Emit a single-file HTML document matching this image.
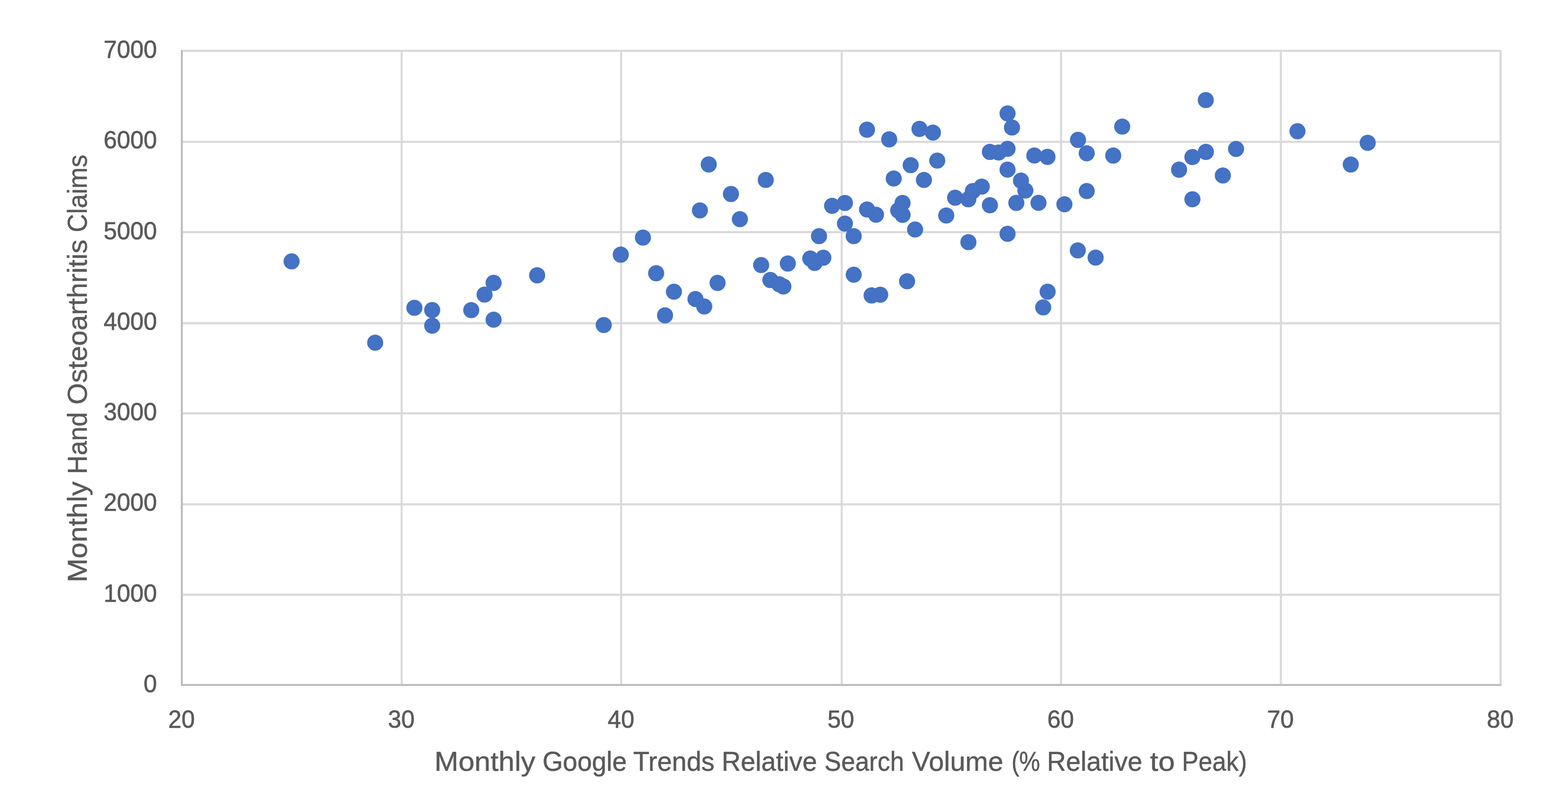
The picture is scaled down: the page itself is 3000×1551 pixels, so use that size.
<!DOCTYPE html>
<html lang="en"><head><meta charset="utf-8"><title>Monthly Hand Osteoarthritis Claims vs Google Trends Relative Search Volume</title>
<style>html,body{margin:0;padding:0;background:#fff;}body{width:3000px;height:1551px;overflow:hidden;}svg{display:block;}text{font-family:"Liberation Sans",Arial,Helvetica,sans-serif;fill:#595959;stroke:#595959;stroke-linejoin:round;}.tick{font-size:47.2px;stroke-width:0.7px;}.title{font-size:51.2px;stroke-width:0.5px;}</style></head><body>
<svg id="chart" width="3000" height="1551" viewBox="0 0 3000 1551">
<rect x="0" y="0" width="3000" height="1551" fill="#ffffff"/>
<g>
<g stroke="#D9D9D9" stroke-width="4" fill="none">
<line x1="347.9" y1="271.3" x2="2871" y2="271.3"/>
<line x1="347.9" y1="444" x2="2871" y2="444"/>
<line x1="347.9" y1="618.3" x2="2871" y2="618.3"/>
<line x1="347.9" y1="790.5" x2="2871" y2="790.5"/>
<line x1="347.9" y1="964.5" x2="2871" y2="964.5"/>
<line x1="347.9" y1="1137.4" x2="2871" y2="1137.4"/>
<line x1="768.5" y1="97.35" x2="768.5" y2="1309.9"/>
<line x1="1188.4" y1="97.35" x2="1188.4" y2="1309.9"/>
<line x1="1610.4" y1="97.35" x2="1610.4" y2="1309.9"/>
<line x1="2030.1" y1="97.35" x2="2030.1" y2="1309.9"/>
<line x1="2450.6" y1="97.35" x2="2450.6" y2="1309.9"/>
<polyline points="347.9,97.35 2871,97.35 2871,1309.9" stroke-linejoin="round"/>
</g>
<polyline points="347.9,97.35 347.9,1309.9 2871,1309.9" stroke="#BFBFBF" stroke-width="4" fill="none" stroke-linejoin="round" stroke-linecap="round"/>
<g fill="#4472C4">
<circle cx="557.9" cy="499.8" r="15.4"/>
<circle cx="717.8" cy="655.4" r="15.4"/>
<circle cx="792.8" cy="588.7" r="15.4"/>
<circle cx="826.9" cy="593" r="15.4"/>
<circle cx="826.9" cy="622.8" r="15.4"/>
<circle cx="901.6" cy="593.2" r="15.4"/>
<circle cx="927.1" cy="563.4" r="15.4"/>
<circle cx="944.4" cy="541" r="15.4"/>
<circle cx="944.4" cy="611.4" r="15.4"/>
<circle cx="1027.7" cy="526.5" r="15.4"/>
<circle cx="1155.1" cy="621.6" r="15.4"/>
<circle cx="1187.7" cy="487" r="15.4"/>
<circle cx="1230.1" cy="454.4" r="15.4"/>
<circle cx="1255.4" cy="522.5" r="15.4"/>
<circle cx="1272.4" cy="603.2" r="15.4"/>
<circle cx="1289.4" cy="557.8" r="15.4"/>
<circle cx="1330.6" cy="571.9" r="15.4"/>
<circle cx="1347.4" cy="586.1" r="15.4"/>
<circle cx="1372.9" cy="541" r="15.4"/>
<circle cx="1339.1" cy="402.3" r="15.4"/>
<circle cx="1415.6" cy="419.2" r="15.4"/>
<circle cx="1456.3" cy="506.9" r="15.4"/>
<circle cx="1473.9" cy="535.5" r="15.4"/>
<circle cx="1490.8" cy="543.7" r="15.4"/>
<circle cx="1498.8" cy="547.9" r="15.4"/>
<circle cx="1507.3" cy="504" r="15.4"/>
<circle cx="1550.3" cy="494.5" r="15.4"/>
<circle cx="1558.6" cy="502.8" r="15.4"/>
<circle cx="1575.3" cy="492.8" r="15.4"/>
<circle cx="1567" cy="451.7" r="15.4"/>
<circle cx="1616.6" cy="427.6" r="15.4"/>
<circle cx="1633.4" cy="451.7" r="15.4"/>
<circle cx="1633.4" cy="525.3" r="15.4"/>
<circle cx="1667.6" cy="565" r="15.4"/>
<circle cx="1684.1" cy="563.6" r="15.4"/>
<circle cx="1356" cy="314.5" r="15.4"/>
<circle cx="1398.5" cy="371" r="15.4"/>
<circle cx="1465.1" cy="344.2" r="15.4"/>
<circle cx="1592" cy="393.6" r="15.4"/>
<circle cx="1616.6" cy="388.1" r="15.4"/>
<circle cx="1658.9" cy="400.6" r="15.4"/>
<circle cx="1676" cy="410.6" r="15.4"/>
<circle cx="1658.8" cy="248" r="15.4"/>
<circle cx="1701.3" cy="266.5" r="15.4"/>
<circle cx="1709.9" cy="341.4" r="15.4"/>
<circle cx="1759.2" cy="246.5" r="15.4"/>
<circle cx="1784.9" cy="253.6" r="15.4"/>
<circle cx="1927.7" cy="216.8" r="15.4"/>
<circle cx="1936.2" cy="243.9" r="15.4"/>
<circle cx="2062.5" cy="267.5" r="15.4"/>
<circle cx="2079.2" cy="293.1" r="15.4"/>
<circle cx="2129.9" cy="297.5" r="15.4"/>
<circle cx="2147.1" cy="242.2" r="15.4"/>
<circle cx="1742.4" cy="315.8" r="15.4"/>
<circle cx="1793.2" cy="307.2" r="15.4"/>
<circle cx="1767.7" cy="344.2" r="15.4"/>
<circle cx="1893.9" cy="290.5" r="15.4"/>
<circle cx="1910.6" cy="291.7" r="15.4"/>
<circle cx="1927.7" cy="284.6" r="15.4"/>
<circle cx="1978.9" cy="297.4" r="15.4"/>
<circle cx="2004.1" cy="300" r="15.4"/>
<circle cx="1927.7" cy="324.4" r="15.4"/>
<circle cx="1953.4" cy="345.5" r="15.4"/>
<circle cx="1961.8" cy="364.3" r="15.4"/>
<circle cx="2079.2" cy="365.3" r="15.4"/>
<circle cx="1827.4" cy="378.1" r="15.4"/>
<circle cx="1852.7" cy="381.1" r="15.4"/>
<circle cx="1861.3" cy="365.4" r="15.4"/>
<circle cx="1878.3" cy="356.9" r="15.4"/>
<circle cx="1894" cy="392.5" r="15.4"/>
<circle cx="1944.5" cy="388" r="15.4"/>
<circle cx="1986.9" cy="387.9" r="15.4"/>
<circle cx="2036.5" cy="390.7" r="15.4"/>
<circle cx="1810.4" cy="412.2" r="15.4"/>
<circle cx="1726.8" cy="388.2" r="15.4"/>
<circle cx="1718.5" cy="402.5" r="15.4"/>
<circle cx="1726.8" cy="410.9" r="15.4"/>
<circle cx="1750.8" cy="438.9" r="15.4"/>
<circle cx="1927.7" cy="447.2" r="15.4"/>
<circle cx="1852.8" cy="463.2" r="15.4"/>
<circle cx="1735.5" cy="537.9" r="15.4"/>
<circle cx="2004.4" cy="557.8" r="15.4"/>
<circle cx="1995.9" cy="587.8" r="15.4"/>
<circle cx="2062.1" cy="478.8" r="15.4"/>
<circle cx="2096.2" cy="492.7" r="15.4"/>
<circle cx="2307" cy="191.4" r="15.4"/>
<circle cx="2281.4" cy="300.4" r="15.4"/>
<circle cx="2307.2" cy="290.5" r="15.4"/>
<circle cx="2364.9" cy="284.8" r="15.4"/>
<circle cx="2255.9" cy="324.5" r="15.4"/>
<circle cx="2339.6" cy="335.7" r="15.4"/>
<circle cx="2281.4" cy="381.1" r="15.4"/>
<circle cx="2482.4" cy="251" r="15.4"/>
<circle cx="2616.8" cy="273.2" r="15.4"/>
<circle cx="2584.4" cy="314.6" r="15.4"/>
</g>
<g class="tick" text-anchor="end">
<text x="300.29" y="111" textLength="102.16" lengthAdjust="spacingAndGlyphs">7000</text>
<text x="300.29" y="284" textLength="102.16" lengthAdjust="spacingAndGlyphs">6000</text>
<text x="300.29" y="458" textLength="102.16" lengthAdjust="spacingAndGlyphs">5000</text>
<text x="300.29" y="631" textLength="102.16" lengthAdjust="spacingAndGlyphs">4000</text>
<text x="300.29" y="804" textLength="102.16" lengthAdjust="spacingAndGlyphs">3000</text>
<text x="300.29" y="977" textLength="102.16" lengthAdjust="spacingAndGlyphs">2000</text>
<text x="300.29" y="1151" textLength="102.16" lengthAdjust="spacingAndGlyphs">1000</text>
<text x="300.29" y="1324" textLength="25.54" lengthAdjust="spacingAndGlyphs">0</text>
</g>
<g class="tick" text-anchor="middle">
<text x="347.3" y="1392" textLength="51.08" lengthAdjust="spacingAndGlyphs">20</text>
<text x="767.82" y="1392" textLength="51.08" lengthAdjust="spacingAndGlyphs">30</text>
<text x="1188.33" y="1392" textLength="51.08" lengthAdjust="spacingAndGlyphs">40</text>
<text x="1608.85" y="1392" textLength="51.08" lengthAdjust="spacingAndGlyphs">50</text>
<text x="2029.37" y="1392" textLength="51.08" lengthAdjust="spacingAndGlyphs">60</text>
<text x="2449.88" y="1392" textLength="51.08" lengthAdjust="spacingAndGlyphs">70</text>
<text x="2870.4" y="1392" textLength="51.08" lengthAdjust="spacingAndGlyphs">80</text>
</g>
<text class="title" y="1474"><tspan x="831.35" textLength="192.9" lengthAdjust="spacingAndGlyphs">Monthly</tspan> <tspan x="1037.9" textLength="161.37" lengthAdjust="spacingAndGlyphs">Google</tspan> <tspan x="1211.56" textLength="155.57" lengthAdjust="spacingAndGlyphs">Trends</tspan> <tspan x="1380.8" textLength="182.49" lengthAdjust="spacingAndGlyphs">Relative</tspan> <tspan x="1577.35" textLength="152.3" lengthAdjust="spacingAndGlyphs">Search</tspan> <tspan x="1744.85" textLength="174.72" lengthAdjust="spacingAndGlyphs">Volume</tspan> <tspan x="1935.15" textLength="54.84" lengthAdjust="spacingAndGlyphs">(%</tspan> <tspan x="2002.9" textLength="182.7" lengthAdjust="spacingAndGlyphs">Relative</tspan> <tspan x="2200.35" textLength="47.4" lengthAdjust="spacingAndGlyphs">to</tspan> <tspan x="2261.33" textLength="124.49" lengthAdjust="spacingAndGlyphs">Peak)</tspan></text>
<text class="title" transform="translate(166 1109.8) rotate(-90)" y="0"><tspan x="-4.06" textLength="193.11" lengthAdjust="spacingAndGlyphs">Monthly</tspan> <tspan x="203.18" textLength="118.45" lengthAdjust="spacingAndGlyphs">Hand</tspan> <tspan x="336.16" textLength="315.55" lengthAdjust="spacingAndGlyphs">Osteoarthritis</tspan> <tspan x="665.67" textLength="148.5" lengthAdjust="spacingAndGlyphs">Claims</tspan></text>
</g>
</svg></body></html>
